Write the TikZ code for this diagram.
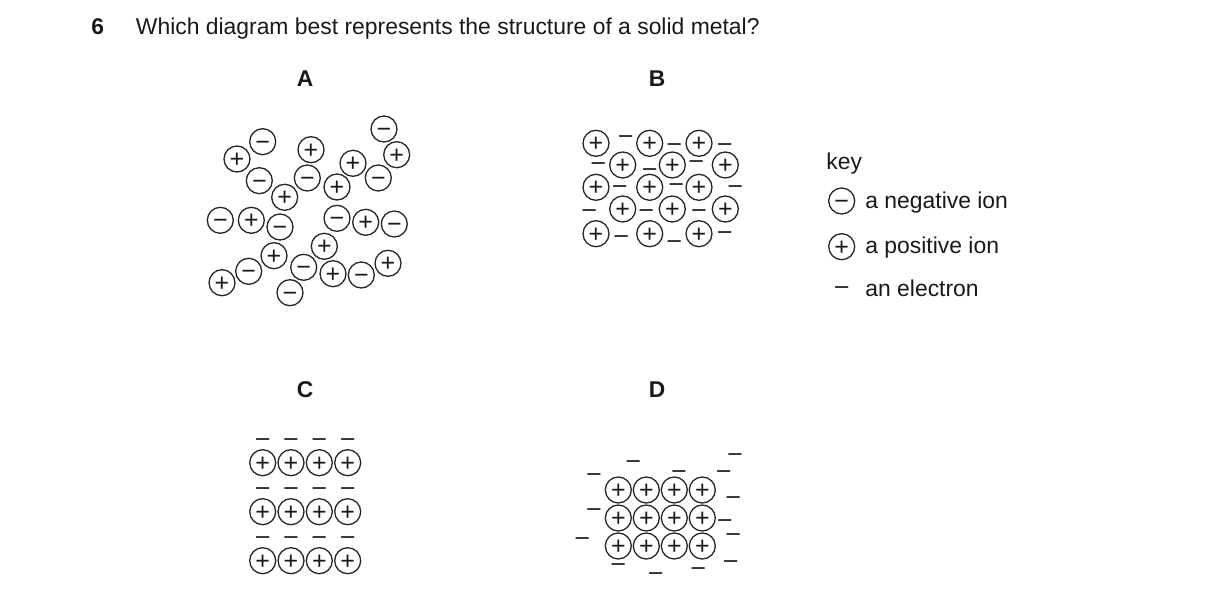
\documentclass[tikz,border=0pt]{standalone}
\usepackage{fontspec}
\setmainfont{Liberation Sans}
\begin{document}
\begin{tikzpicture}[x=.5pt,y=-.5pt,
  ion/.style={circle,draw=black!85,text=black!90,line width=.65pt,minimum size=13pt,inner sep=0pt,
    font=\fontsize{12.5}{12.5}\selectfont,text height=8.6pt,text depth=0pt,text width=7.3pt,align=center},
  posion/.style={ion},
  negion/.style={ion},
  electron/.style={inner sep=0pt,text=black!80,font=\fontsize{13.5}{13.5}\selectfont,text height=9.3pt,text depth=0pt},
  body/.style={anchor=base west,inner sep=0pt,text=black!90,font=\fontsize{11.45}{11.45}\selectfont},
  letter/.style={inner sep=0pt,text=black!90,font=\fontsize{11.4}{11.4}\selectfont\bfseries}]
\useasboundingbox (0,0) rectangle (1216,599);
%
\node[body,font=\fontsize{11.4}{11.4}\selectfont\bfseries] (number) at (91,35) {6};
\node[body] (question) at (135.5,35) {Which diagram best represents the structure of a solid metal?};
\node[letter] (labela) at (305,79) {A};
\node[letter] (labelb) at (657,79) {B};
\node[letter] (labelc) at (305,390) {C};
\node[letter] (labeld) at (657,390) {D};
%
% diagram A
\foreach \x/\y [count=\i] in {396.7/154.7, 353/163.3, 337/187, 311/149.7, 237/159, 284.7/197.3,
    251.3/220.3, 365.7/222.3, 324.3/246.3, 274/255.7, 222/282.7, 333/273.7, 388/263.3}
  \node[posion] (apos\i) at (\x,\y) {+};
\foreach \x/\y [count=\i] in {384/129, 378.3/178, 307.3/178, 262.7/141.7, 259.3/180.7, 220.3/220.3,
    280/227, 337/218.3, 394.3/224, 248.7/271.3, 303.7/267.3, 361.3/275, 290/292.7}
  \node[negion] (aneg\i) at (\x,\y) {−};
%
% diagram B
\foreach \y [count=\r] in {143.3,187.3,233.7}
  \foreach \x [count=\i] in {596,649.7,699}
    \node[posion] (bodd\r\i) at (\x,\y) {+};
\foreach \y [count=\r] in {165,209}
  \foreach \x [count=\i] in {622.7,672.3,725.3}
    \node[posion] (beven\r\i) at (\x,\y) {+};
\foreach \x/\y [count=\i] in {625.7/136.3, 674.3/144.7, 724.7/144.7, 598.3/162.7, 649.7/168.7,
    696.3/160.7, 619.7/186.7, 676.3/184.3, 735.3/186.7, 589.3/210.7, 646.3/210.7, 699/210.7,
    621.3/235.7, 674.3/240.7, 724.7/232.7}
  \node[electron] (bel\i) at (\x,\y) {−};
%
% diagram C
\foreach \y [count=\r] in {462.7,511.7,560.7}
  \foreach \x [count=\i] in {262.7,291,319.3,347.7}
    \node[posion] (cpos\r\i) at (\x,\y) {+};
\foreach \y [count=\r] in {438.7,487.7,536.7}
  \foreach \x [count=\i] in {262.7,291,319.3,347.7}
    \node[electron] (cel\r\i) at (\x,\y) {−};
%
% diagram D
\foreach \y [count=\r] in {490,518,546}
  \foreach \x [count=\i] in {618.3,646.3,674.3,702.3}
    \node[posion] (dpos\r\i) at (\x,\y) {+};
\foreach \x/\y [count=\i] in {735/453.7, 633.3/460.7, 594/473.7, 679/470.7, 723.7/470.7, 733.3/496.7,
    594/508.7, 724.7/519.7, 582.3/537.7, 733.3/533.7, 618.3/563.7, 655.7/572.7, 698.3/567.7, 730.7/560.7}
  \node[electron] (del\i) at (\x,\y) {−};
%
% key
\node[body] (keytitle) at (826,169.3) {key};
\node[negion] (keyneg) at (841.7,201) {−};
\node[posion] (keypos) at (841.7,246.7) {+};
\node[electron] (keyel) at (841.7,287.5) {−};
\node[body] (keynegtext) at (865,208) {a negative ion};
\node[body] (keypostext) at (865,253.3) {a positive ion};
\node[body] (keyeltext) at (865,296.7) {an electron};
\end{tikzpicture}
\end{document}
